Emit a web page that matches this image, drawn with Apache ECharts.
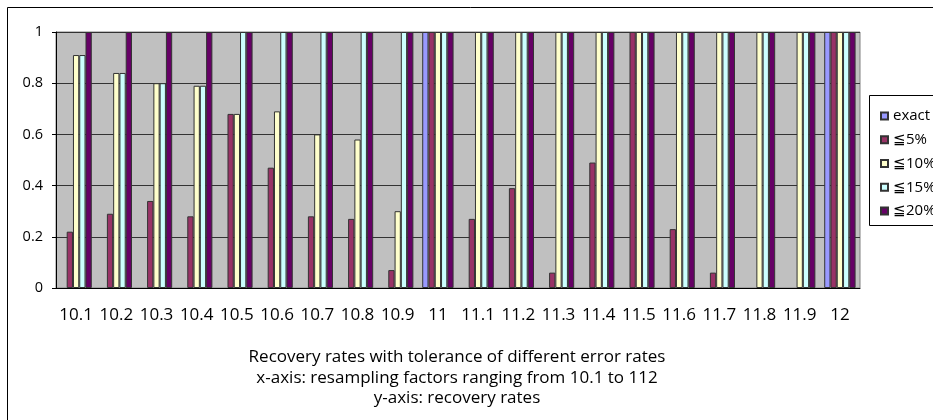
<!DOCTYPE html>
<html>
<head>
<meta charset="utf-8">
<script src="https://cdn.jsdelivr.net/npm/echarts@6/dist/echarts.min.js"></script>
<style>
  html, body { margin: 0; padding: 0; background: #fff; }
  #chart { width: 933px; height: 420px; }
</style>
</head>
<body>
<div id="chart"></div>
<script>
// Resampling factors on the x-axis
const factors = ['10.1','10.2','10.3','10.4','10.5','10.6','10.7','10.8','10.9','11',
                 '11.1','11.2','11.3','11.4','11.5','11.6','11.7','11.8','11.9','12'];

// Recovery rates per error tolerance
const exact = [0,0,0,0,0,0,0,0,0,1, 0,0,0,0,0,0,0,0,0,1];
const tol5  = [0.22,0.29,0.34,0.28,0.68,0.47,0.28,0.27,0.07,1, 0.27,0.39,0.06,0.49,1,0.23,0.06,0,0,1];
const tol10 = [0.91,0.84,0.80,0.79,0.68,0.69,0.60,0.58,0.30,1, 1,1,1,1,1,1,1,1,1,1];
const tol15 = [0.91,0.84,0.80,0.79,1,1,1,1,1,1, 1,1,1,1,1,1,1,1,1,1];
const tol20 = [1,1,1,1,1,1,1,1,1,1, 1,1,1,1,1,1,1,1,1,1];

const seriesNames = ['exact','≦5%','≦10%','≦15%','≦20%'];
const seriesData = [exact, tol5, tol10, tol15, tol20];
const seriesColors = ['#9999FF','#993366','#FFFFCC','#CCFFFF','#660066'];

const yTicks = [0, 0.2, 0.4, 0.6, 0.8, 1];

const captionLines = [
  'Recovery rates with tolerance of different error rates',
  'x-axis: resampling factors ranging from 10.1 to 112',
  'y-axis: recovery rates'
];

const FONT = "'Open Sans', 'Noto Sans', sans-serif";

const chart = echarts.init(document.getElementById('chart'), null, { renderer: 'canvas' });

chart.setOption({
  animation: false,
  backgroundColor: '#fff',
  textStyle: { fontFamily: FONT },
  graphic: [
    // outer chart frame
    { type: 'rect', x: 7.5, y: 7.5, z: -10, silent: true,
      shape: { x: 0, y: 0, width: 1000, height: 500 },
      style: { fill: '#fff', stroke: '#000', lineWidth: 1 } },
    // legend frame
    { type: 'rect', x: 869.5, y: 95.5, z: 1, silent: true,
      shape: { x: 0, y: 0, width: 100, height: 130 },
      style: { fill: '#fff', stroke: '#000', lineWidth: 1 } },
    // caption under the axis, centred on the plot
    { type: 'text', x: 457, y: 347, z: 5, silent: true,
      style: { text: captionLines.join('\n'), fontFamily: FONT, fontSize: 17,
               lineHeight: 20.5, fill: '#000', align: 'center', verticalAlign: 'top' } }
  ],
  legend: {
    orient: 'vertical',
    left: 875,
    top: 103.5,
    z: 10,
    itemWidth: 7,
    itemHeight: 7,
    itemGap: 8.75,
    icon: 'rect',
    data: seriesNames,
    textStyle: { fontFamily: FONT, fontSize: 15, lineHeight: 14, color: '#000' }
  },
  grid: {
    left: 56, top: 32, width: 804, height: 256,
    show: true, backgroundColor: '#C0C0C0', borderColor: '#808080', borderWidth: 1
  },
  xAxis: {
    type: 'category',
    data: factors,
    axisLine: { show: true, lineStyle: { color: '#000', width: 1 } },
    axisTick: { show: false },
    axisLabel: { fontFamily: FONT, fontSize: 17, color: '#000', margin: 19, interval: 0 },
    splitLine: { show: false }
  },
  yAxis: {
    type: 'value',
    min: 0, max: 1, interval: 0.2,
    axisLine: { show: true, lineStyle: { color: '#000', width: 1 } },
    axisTick: { show: true, inside: false, length: 4, lineStyle: { color: '#000' } },
    axisLabel: { fontFamily: FONT, fontSize: 14.5, color: '#000', margin: 13,
                 formatter: v => yTicks.includes(Math.round(v * 10) / 10) ? String(Math.round(v * 10) / 10) : '' },
    splitLine: { show: true, lineStyle: { color: '#333', width: 1 } }
  },
  series: seriesNames.map((name, i) => ({
    name,
    type: 'bar',
    // zero-height bars get no outline so nothing shows on the baseline
    data: seriesData[i].map(v => ({ value: v, itemStyle: { borderWidth: v === 0 ? 0 : 1 } })),
    barGap: '0%',
    barCategoryGap: '22%',
    itemStyle: { color: seriesColors[i], borderColor: '#333', borderWidth: 1 }
  }))
});
</script>
</body>
</html>
